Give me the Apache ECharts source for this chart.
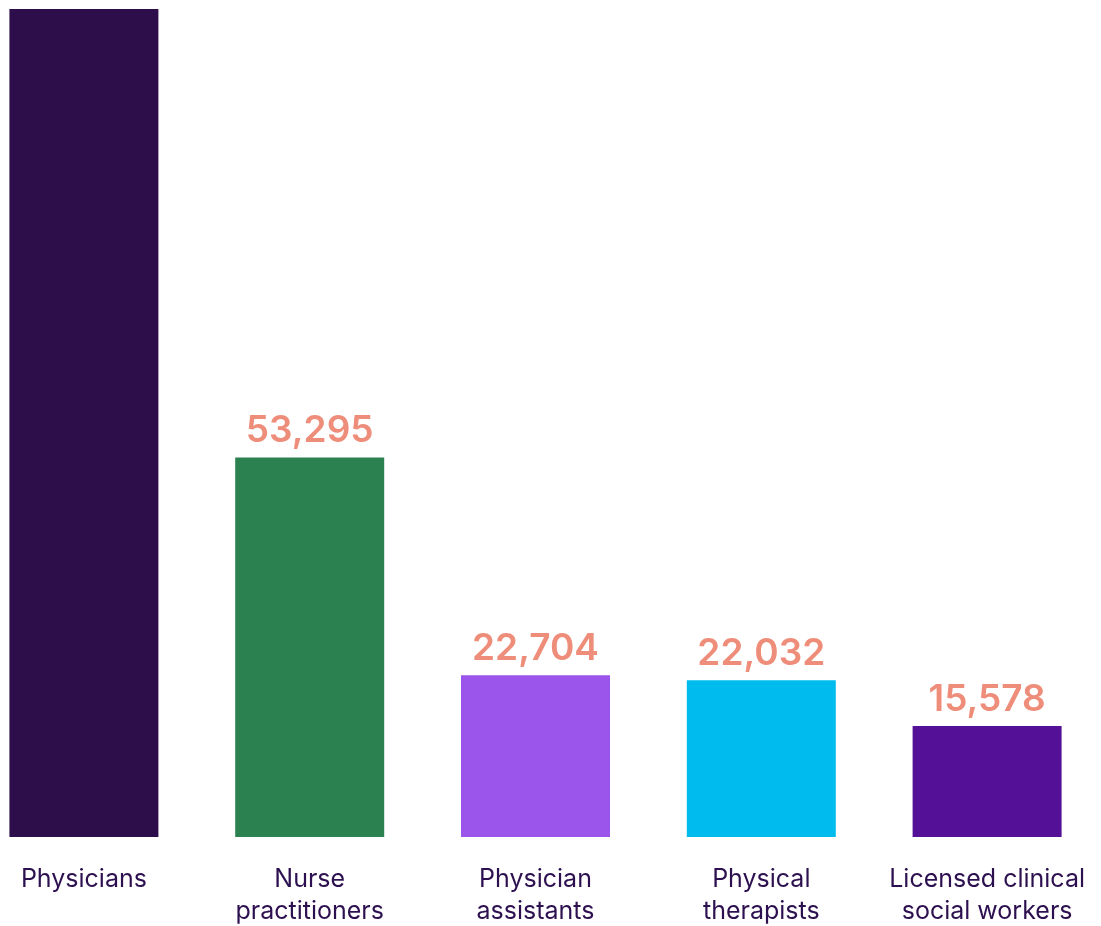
<!DOCTYPE html>
<html>
<head>
<meta charset="utf-8">
<style>
html,body{margin:0;padding:0;background:#fff;overflow:hidden;width:1101px;height:926px;}
#chart{position:absolute;left:-29.5px;top:0;width:1129px;height:926px;}
</style>
<script src="https://cdn.jsdelivr.net/npm/echarts@6/dist/echarts.min.js"></script>
</head>
<body>
<div id="chart"></div>
<script>
var categories = ['Physicians', 'Nurse\npractitioners', 'Physician\nassistants', 'Physical\ntherapists', 'Licensed clinical\nsocial workers'];
var values = [116300, 53295, 22704, 22032, 15578];
var barColors = ['#2D0E4B', '#2B8250', '#9C55EA', '#00BCEE', '#541096'];
var showLabel = [false, true, true, true, true];

var chart = echarts.init(document.getElementById('chart'));
chart.setOption({
  animation: false,
  grid: { left: 0, right: 0, top: 9, bottom: 89, outerBoundsMode: 'none', containLabel: false },
  xAxis: {
    type: 'category',
    data: categories,
    axisLine: { show: false },
    axisTick: { show: false },
    axisLabel: {
      interval: 0,
      margin: 26,
      color: '#2D1050',
      fontFamily: 'Inter',
      fontSize: 25,
      lineHeight: 32
    }
  },
  yAxis: {
    type: 'value',
    min: 0,
    max: 116300,
    show: false,
    splitLine: { show: false }
  },
  series: [{
    type: 'bar',
    barWidth: 149,
    data: values.map(function (v, i) {
      return { value: v, itemStyle: { color: barColors[i] }, label: { show: showLabel[i] } };
    }),
    label: {
      position: 'top',
      distance: 8,
      color: '#EE8D79',
      fontFamily: 'Inter',
      fontWeight: 600,
      fontSize: 37,
      formatter: function (p) { return p.value.toLocaleString('en-US'); }
    }
  }]
});
</script>
</body>
</html>
